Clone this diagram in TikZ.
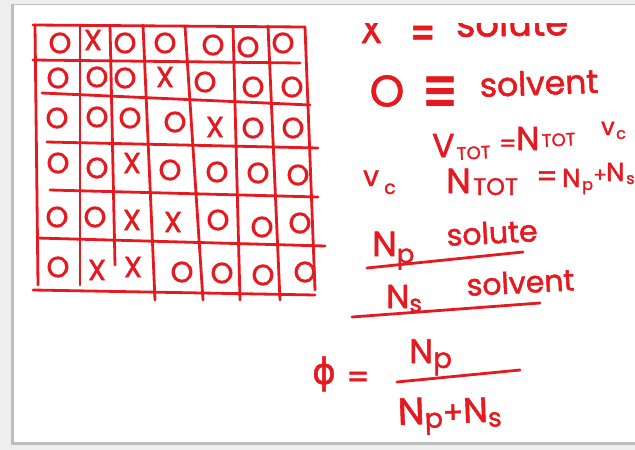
\documentclass[tikz,border=0pt]{standalone}
\usepackage{fontspec}
\newfontfamily\hand[FakeBold=1.6]{Poppins}
\newfontfamily\sym[FakeBold=1.2]{DejaVu Sans}
\definecolor{ink}{RGB}{228,26,32}
\definecolor{edge}{RGB}{190,190,190}
\definecolor{outside}{RGB}{238,238,238}
\newcommand{\fs}[1]{\fontsize{#1}{#1}\selectfont}
\newcommand{\lowr}[3]{\raisebox{-#2pt}{\fs{#1}#3}}
\tikzset{
  inkline/.style={draw=ink, line width=2.8pt, line cap=round},
  hw/.style={text=ink, inner sep=0pt, font=\hand},
  cell/.style={hw, font=\hand\fs{29}},
}
\begin{document}
\begin{tikzpicture}[x=1pt,y=-1pt]
\useasboundingbox (0,0) rectangle (635,450);
% board
\fill[outside] (0,0) rectangle (635,450);
\fill[edge] (11,4) rectangle (635,445);
\fill[white] (14,5) rectangle (635,442);
% grid
\draw[inkline] (33,25) -- (305,27);
\draw[inkline] (33,60) -- (300,63);
\draw[inkline] (42,93) -- (310,105);
\draw[inkline] (47,142) -- (318,148);
\draw[inkline] (50,190) -- (318,197);
\draw[inkline] (37,238) -- (325,246);
\draw[inkline] (33,290) -- (315,295);
\draw[inkline] (35,25) -- (38,285);
\draw[inkline] (80,25) -- (80,285);
\draw[inkline] (110,25) -- (115,265);
\draw[inkline] (143,25) -- (155,300);
\draw[inkline] (185,26) -- (203,300);
\draw[inkline] (233,26) -- (240,300);
\draw[inkline] (268,26) -- (280,300);
\draw[inkline] (305,27) -- (315,290);
\foreach \x/\y/\s in {
 60/43/O, 93/40/X, 125/43/O, 165/43/O, 213/45/O, 248/47/O, 283/43/O,
 58/78/O, 97/77/O, 125/78/O, 165/77/X, 205/82/O, 253/87/O, 292/87/O,
 57/118/O, 97/117/O, 130/118/O, 175/122/O, 215/127/X, 253/128/O, 293/128/O,
 58/163/O, 97/168/O, 132/163/X, 170/170/O, 217/172/O, 258/173/O, 298/175/O,
 57/217/O, 95/217/O, 132/220/X, 173/222/X, 218/220/O, 262/227/O, 300/223/O,
 58/267/O, 97/270/X, 133/267/X, 182/272/O, 222/273/O, 263/275/O, 305/272/O}
 \node[cell] (c\x-\y) at (\x,\y) {\s};
% legend, partly hidden at the top
\begin{scope}
\clip (300,23) rectangle (635,60);
\node[hw, font=\hand\fs{36}, anchor=base west] (lx) at (360,43) {X};
\node[hw, font=\sym\fs{30}, anchor=base west] (leq) at (410,44) {\scalebox{1}[1.7]{≡}};
\node[hw, font=\hand\fs{37}, anchor=base west, rotate=1] (lsolute) at (456,37) {solute};
\end{scope}
\node[hw, font=\hand\fs{44}] (lo) at (387,91) {O};
\node[hw, font=\sym\fs{34}] (leq2) at (440,94) {\scalebox{1.25}[1.9]{≡}};
\node[hw, font=\hand\fs{33}, anchor=base west, rotate=2] (lsolvent) at (480,97) {solvent};
% V_TOT = N_TOT v_c
\node[hw, font=\hand\fs{33}, anchor=base west] (vV) at (432,157) {V};
\node[hw, font=\hand\fs{18}, anchor=base west, rotate=3] (vTOT) at (457,160) {TOT};
\node[hw, font=\hand\fs{24}, anchor=base west] (vEq) at (499,152) {=};
\node[hw, font=\hand\fs{33}, anchor=base west] (vN) at (516,150) {N};
\node[hw, font=\hand\fs{18}, anchor=base west, rotate=3] (vNT) at (542,147) {TOT};
\node[hw, font=\hand\fs{24}, anchor=base west] (vv) at (601,135) {v};
\node[hw, font=\hand\fs{16}, anchor=base west] (vvc) at (616,139) {c};
% v_c
\node[hw, font=\hand\fs{28}, anchor=base west] (vc2) at (363,186) {v};
\node[hw, font=\hand\fs{19}, anchor=base west] (vc2s) at (384,194) {c};
% N_TOT = N_p + N_s
\node[hw, font=\hand\fs{35}, anchor=base west] (nN) at (446,193) {N};
\node[hw, font=\hand\fs{24}, anchor=base west] (nTOT) at (473,195) {TOT};
\node[hw, font=\hand\fs{30}] (nEq) at (547,179) {=};
\node[hw, font=\hand\fs{26}, anchor=base west] (s1) at (562,187) {N};
\node[hw, font=\hand\fs{16}, anchor=base west] (s2) at (582,190) {p};
\node[hw, font=\hand\fs{20}, anchor=base west] (s3) at (593,182) {+};
\node[hw, font=\hand\fs{26}, anchor=base west] (s4) at (606,181) {N};
\node[hw, font=\hand\fs{16}, anchor=base west] (s5) at (626,184) {s};
% N_p solute
\node[hw, font=\hand\fs{35}, anchor=base west] (np) at (372,256) {N\lowr{26}{7}{p}};
\node[hw, font=\hand\fs{30}, anchor=base west, rotate=3] (solute) at (447,246) {solute};
\coordinate (u1a) at (367,268);
\coordinate (u1b) at (523,252);
\draw[inkline] (u1a) -- (u1b);
% N_s solvent
\node[hw, font=\hand\fs{33}, anchor=base west] (ns) at (386,308) {N\lowr{24}{4}{s}};
\node[hw, font=\hand\fs{30}, anchor=base west, rotate=3] (solvent2) at (467,296) {solvent};
\coordinate (u2a) at (352,317);
\coordinate (u2b) at (540,303);
\draw[inkline] (u2a) -- (u2b);
% phi
\node[hw, font=\sym\fs{36}] (phi) at (324,374) {ϕ};
\node[hw, font=\hand\fs{32}] (peq) at (358,380) {=};
\node[hw, font=\hand\fs{34}, anchor=base west] (fnum) at (409,363) {N\lowr{28}{5}{p}};
\coordinate (fba) at (397,382);
\coordinate (fbb) at (520,370);
\draw[inkline] (fba) -- (fbb);
\node[hw, font=\hand\fs{38}, anchor=base west, rotate=2] (fden) at (398,425)
  {N\lowr{27}{4}{p}\fs{30}+\fs{35}N\lowr{26}{5}{s}};
\end{tikzpicture}
\end{document}
